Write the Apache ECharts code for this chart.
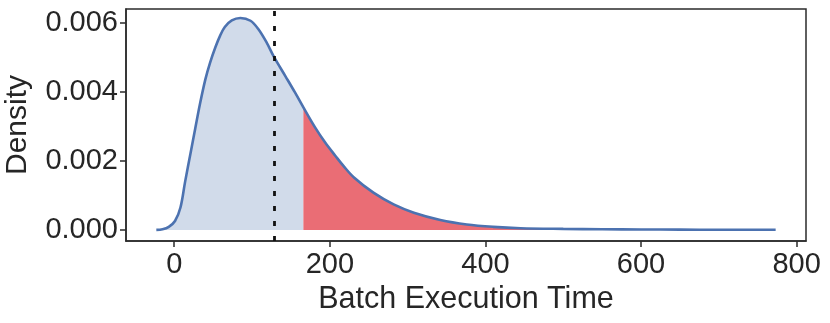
<!DOCTYPE html>
<html><head><meta charset="utf-8">
<script src="https://cdn.jsdelivr.net/npm/echarts@6/dist/echarts.min.js"></script>
<style>html,body{margin:0;padding:0;background:#fff}#c{width:830px;height:323px}</style>
</head><body><div id="c"></div>
<script>
const xValues = [-23,-15,-7,1,8,14,21,27,33,40,46,53,59,65,74,85,98,108,119,128,143,155,166,181,194,207,218,231,256,282,308,342,376,410,445,500,550,600,650,700,773];
const densityValues = [0.000003,0.00002,0.00009,0.00026,0.00065,0.00140,0.00223,0.00294,0.00364,0.00436,0.00484,0.00530,0.00563,0.00588,0.00607,0.00614,0.00606,0.00582,0.00542,0.00502,0.00445,0.00399,0.00355,0.00297,0.00253,0.00215,0.00184,0.00152,0.00108,0.00074,0.00050,0.00029,0.00016,0.00009,0.00005,0.00003,0.00002,0.000015,0.00001,0.000006,0.000004];
const thresholdMean = 128;
const thresholdTail = 166;
const xTicks = [0,200,400,600,800];
const yTicks = [0,0.002,0.004,0.006];

const all = xValues.map((x,i)=>[x,densityValues[i]]);
const left = all.filter(p=>p[0]<=thresholdTail);
const right = all.filter(p=>p[0]>=thresholdTail);
const font = 'Liberation Sans, Arial, sans-serif';
const chart = echarts.init(document.getElementById('c'));
chart.setOption({
  animation:false,
  grid:{left:126,right:24,top:9,bottom:82,outerBoundsMode:'none',containLabel:false,show:true,borderColor:'#2b2b2b',borderWidth:1.5,backgroundColor:'transparent'},
  xAxis:{type:'value',min:-62,max:812,splitLine:{show:false},
    axisLine:{show:true,onZero:false,lineStyle:{color:'#2b2b2b',width:1.5}},
    axisTick:{show:true,length:6,lineStyle:{color:'#2b2b2b',width:1.5},customValues:xTicks},
    axisLabel:{customValues:xTicks,color:'#262626',fontSize:29,fontFamily:font,margin:9},
    name:'Batch Execution Time',nameLocation:'middle',nameGap:38,
    nameTextStyle:{fontSize:30.5,color:'#262626',fontFamily:font}},
  yAxis:{type:'value',min:-0.00032,max:0.0064,splitLine:{show:false},
    axisLine:{show:true,onZero:false,lineStyle:{color:'#2b2b2b',width:1.5}},
    axisTick:{show:true,length:6,lineStyle:{color:'#2b2b2b',width:1.5},customValues:yTicks},
    axisLabel:{customValues:yTicks,color:'#262626',fontSize:29,fontFamily:font,margin:8,formatter:v=>v.toFixed(3)},
    name:'Density',nameLocation:'middle',nameGap:93,nameRotate:90,
    nameTextStyle:{fontSize:30,color:'#262626',fontFamily:font}},
  series:[
    {type:'line',data:left,smooth:0.35,showSymbol:false,lineStyle:{width:0},areaStyle:{color:'#d1dbea',opacity:1},z:1},
    {type:'line',data:right,smooth:0.35,showSymbol:false,lineStyle:{width:0},areaStyle:{color:'#ea6d75',opacity:1},z:1},
    {type:'line',data:all,smooth:0.35,showSymbol:false,lineStyle:{color:'#4c72b0',width:2.6},z:3,
      markLine:{silent:true,symbol:'none',label:{show:false},
        lineStyle:{color:'#111',width:2.8,type:[5,10]},
        data:[{xAxis:thresholdMean}]}}
  ]
});
</script></body></html>
